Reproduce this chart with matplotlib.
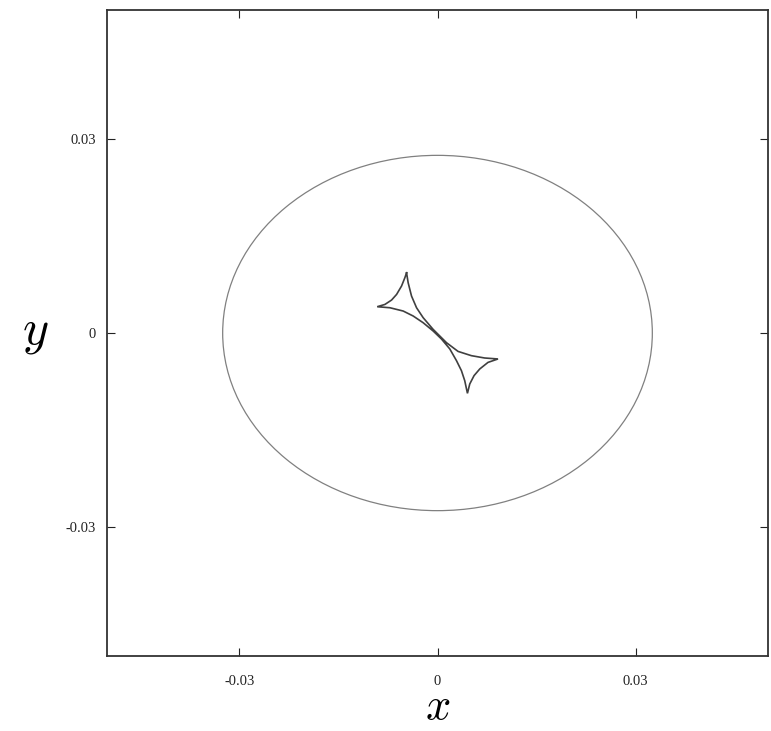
import matplotlib

matplotlib.use("Agg")
import matplotlib.pyplot as plt
from matplotlib.patches import Ellipse

# outer curve: centred ellipse, semi-axes
ELLIPSE_CENTER = (0.0, 0.0)
ELLIPSE_A = 0.0325
ELLIPSE_B = 0.0275

# inner four-cusp caustic, traced point by point as a closed path
# (top cusp -> left cusp -> bottom cusp -> right cusp -> top cusp)
CAUSTIC_X = [
    -0.00468, -0.00494, -0.00544, -0.00619, -0.00695, -0.00796, -0.00912,
    -0.00720, -0.00519, -0.00368, -0.00217, -0.00066, 0.00060, 0.00186,
    0.00287, 0.00362, 0.00412, 0.00453,
    0.00488, 0.00553, 0.00639, 0.00764, 0.00915,
    0.00714, 0.00513, 0.00311, 0.00136, -0.00066, -0.00217, -0.00317,
    -0.00393, -0.00444, -0.00468,
]
CAUSTIC_Y = [
    0.00932, 0.00855, 0.00727, 0.00597, 0.00510, 0.00442, 0.00407,
    0.00391, 0.00340, 0.00263, 0.00159, 0.00031, -0.00093, -0.00247,
    -0.00428, -0.00583, -0.00738, -0.00934,
    -0.00789, -0.00660, -0.00557, -0.00455, -0.00402,
    -0.00387, -0.00351, -0.00285, -0.00150, 0.00056, 0.00237, 0.00391,
    0.00572, 0.00778, 0.00932,
]

TICKS = [-0.03, 0, 0.03]
TICK_LABELS = ["-0.03", "0", "0.03"]
LIMITS = (-0.05, 0.05)

plt.rcParams["font.family"] = ["Liberation Serif", "DejaVu Serif"]
plt.rcParams["mathtext.fontset"] = "cm"

fig = plt.figure(figsize=(7.71, 7.31), dpi=100)
ax = fig.add_axes([107 / 771, 75 / 731, 661 / 771, 646 / 731])

ax.add_patch(Ellipse(ELLIPSE_CENTER, 2 * ELLIPSE_A, 2 * ELLIPSE_B,
                     fill=False, edgecolor="#808080", lw=0.9))
ax.plot(CAUSTIC_X, CAUSTIC_Y, color="#404040", lw=1.2,
        solid_joinstyle="miter")

ax.set_xlim(*LIMITS)
ax.set_ylim(*LIMITS)
ax.set_xticks(TICKS)
ax.set_xticklabels(TICK_LABELS)
ax.set_yticks(TICKS)
ax.set_yticklabels(TICK_LABELS)
ax.tick_params(direction="in", top=True, right=True, length=5.5,
               width=0.8, labelsize=10.5, colors="#222222")
ax.tick_params(axis="x", pad=14)
ax.tick_params(axis="y", pad=8)
for s in ax.spines.values():
    s.set_linewidth(1.3)
    s.set_color("#333333")

ax.set_xlabel("$x$", fontsize=32, labelpad=0)
ax.set_ylabel("$y$", fontsize=36, rotation=0, labelpad=22, va="center")

fig.savefig("out.png", dpi=100)
